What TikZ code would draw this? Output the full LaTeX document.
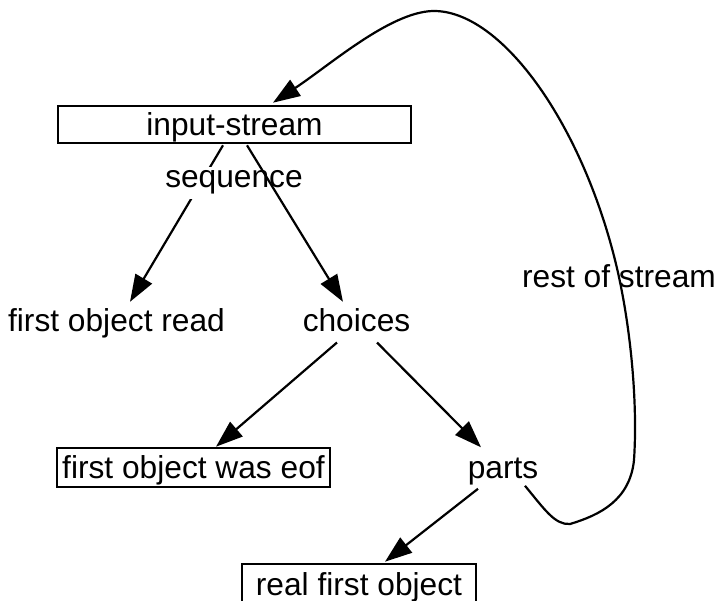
\documentclass[tikz,border=0pt]{standalone}
\usepackage{fontspec}
\setmainfont{Liberation Sans}
\usetikzlibrary{arrows.meta,calc}
\begin{document}
\begin{tikzpicture}[x=1pt,y=-1pt,
  every node/.style={font=\fontsize{31.7}{38}\selectfont, inner sep=0pt},
  boxnode/.style={draw, line width=2.6pt, text depth=0pt},
  plain/.style={anchor=base},
  edge/.style={line width=2.2pt, -{Triangle[length=27pt,width=19pt]}}]
\useasboundingbox (0,0) rectangle (717,601);
\node[boxnode, minimum width=353pt, minimum height=37pt] (inputstream) at (234.5,124.5) {input-stream};
\node[plain] (firstread) at (116.5,332) {first object read};
\node[plain] (choices) at (356.5,332) {choices};
\node[boxnode, minimum width=273pt, minimum height=39pt] (eof) at (193.5,467.5) {first object was eof};
\node[plain] (parts) at (503,478) {parts};
\node[boxnode, minimum width=234pt, minimum height=40pt] (real) at (359,584) {real first object};
\node[plain] (rest) at (619,288) {rest of stream};
\draw[edge] ($(inputstream.south)+(-11.5,1)$) -- ($(firstread.north)+(13.5,-7)$);
\node[fill=white, inner sep=4pt, anchor=base] (sequence) at (234,188) {sequence};
\draw[edge] ($(inputstream.south)+(12.5,1)$) -- ($(choices.north)+(-13.5,-7)$);
\draw[edge] ($(choices.south)+(-19.5,10)$) -- ($(eof.north)+(22.5,0)$);
\draw[edge] ($(choices.south)+(20.5,10)$) -- ($(parts.north)+(-22,-10)$);
\draw[edge] ($(parts.south)+(-25,4)$) -- ($(real.north)+(26,-1)$);
\draw[edge] ($(parts.south)+(22,1)$) .. controls (545,510) and (555,525) .. (570,524)
  .. controls (600,515) and (630,500) .. (634,460)
  .. controls (638,400) and (630,320) .. (615,260)
  .. controls (580,120) and (500,10) .. (433,11)
  .. controls (390,12) and (330,65) .. ($(inputstream.north)+(38.5,-2)$);
\end{tikzpicture}
\end{document}
